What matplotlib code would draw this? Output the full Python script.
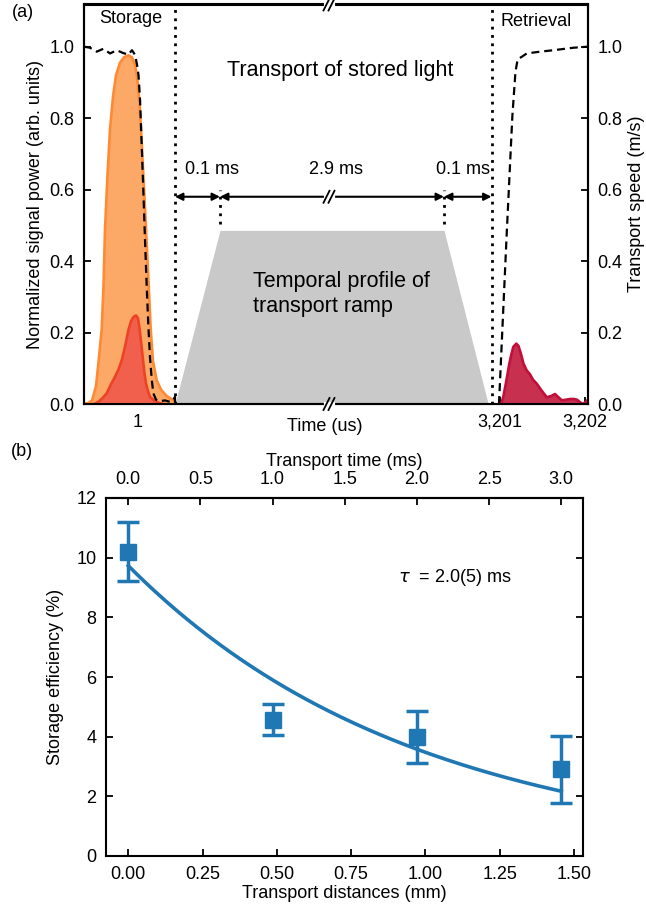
import numpy as np
import matplotlib
matplotlib.use('Agg')
import matplotlib.pyplot as plt
from matplotlib.lines import Line2D

plt.rcParams['font.family'] = ['Liberation Sans', 'DejaVu Sans']
plt.rcParams['mathtext.fontset'] = 'dejavusans'

# ---------------- Panel (a) data ----------------
# input (stored) pulse, normalized power vs time (us)
IN_T = [0.365, 0.412, 0.459, 0.506, 0.541, 0.573, 0.594, 0.612, 0.641, 0.671,
        0.706, 0.741, 0.788, 0.835, 0.886, 0.929, 0.965, 0.992, 1.018, 1.035,
        1.065, 1.094, 1.124, 1.149, 1.176, 1.220, 1.271, 1.338, 1.400, 1.471,
        1.541, 1.612]
IN_P = [0.002, 0.002, 0.01, 0.05, 0.13, 0.21, 0.33, 0.49, 0.64, 0.77,
        0.86, 0.92, 0.955, 0.97, 0.976, 0.97, 0.95, 0.91, 0.84, 0.77,
        0.63, 0.49, 0.34, 0.21, 0.12, 0.066, 0.04, 0.022, 0.013, 0.008,
        0.004, 0.0]
# leaked / unstored part of the pulse
LEAK_T = [0.482, 0.533, 0.576, 0.632, 0.682, 0.729, 0.771, 0.808, 0.847, 0.886,
          0.918, 0.945, 0.976, 1.0, 1.015, 1.035, 1.055, 1.074, 1.094, 1.118,
          1.141, 1.2, 1.259, 1.306]
LEAK_P = [0.0, 0.006, 0.015, 0.03, 0.055, 0.076, 0.097, 0.122, 0.16, 0.206,
          0.232, 0.243, 0.248, 0.24, 0.216, 0.175, 0.132, 0.09, 0.057, 0.035,
          0.02, 0.008, 0.002, 0.0]
# retrieved pulse after transport
RET_T = [3201.012, 3201.039, 3201.071, 3201.11, 3201.135, 3201.157, 3201.192,
         3201.218, 3201.247, 3201.276, 3201.314, 3201.353, 3201.388, 3201.432,
         3201.482, 3201.549, 3201.6, 3201.647, 3201.682, 3201.729, 3201.776,
         3201.824, 3201.871, 3201.906, 3201.941, 3201.976, 3202.012, 3202.035]
RET_P = [0.0, 0.02, 0.06, 0.113, 0.14, 0.16, 0.169, 0.162, 0.14, 0.113,
         0.094, 0.083, 0.068, 0.057, 0.04, 0.019, 0.022, 0.028, 0.02, 0.01,
         0.012, 0.014, 0.014, 0.012, 0.005, 0.0, 0.006, 0.012]
# control / transport speed (dashed), right axis
SPD_L_T = [0.365, 0.435, 0.514, 0.592, 0.671, 0.749, 0.827, 0.886, 0.929, 0.965,
           0.988, 1.006, 1.024, 1.044, 1.062, 1.082, 1.102, 1.121, 1.141, 1.161,
           1.180, 1.212, 1.259, 1.318, 1.376, 1.412, 1.435, 1.459, 1.494]
SPD_L_V = [1.0, 0.997, 0.986, 0.994, 0.981, 0.99, 0.982, 0.978, 0.99, 0.977,
           0.95, 0.92, 0.85, 0.72, 0.6, 0.46, 0.33, 0.22, 0.13, 0.07,
           0.03, 0.012, 0.008, 0.01, 0.006, 0.01, 0.02, 0.008, 0.0]
SPD_R_T = [3200.988, 3201.079, 3201.145, 3201.182, 3201.208, 3201.259,
           3201.314, 3201.471, 3201.627, 3201.862, 3202.035]
SPD_R_V = [0.0, 0.477, 0.804, 0.93, 0.965, 0.972, 0.981, 0.986, 0.99, 0.997, 1.0]

# event times (us) and transport ramp profile
T_STORE_END = 1.435
T_ACCEL_END = 101.435
T_DECEL_START = 3100.9
T_RETRIEVE = 3200.9
RAMP_T = [T_STORE_END, T_ACCEL_END, T_DECEL_START, 3194.0]
RAMP_V = [0.0, 0.486, 0.486, 0.0]

XTICKS_A = [1, 3201, 3202]
XTICKLABELS_A = ['1', '3,201', '3,202']

# ---------------- Panel (b) data ----------------
TIME_MS = [0.0, 1.0, 2.0, 3.0]
SPEED_MM_PER_MS = 0.4856
DIST_MM = [0.0, 0.4856, 0.971, 1.457]
EFF = [10.2, 4.57, 4.0, 2.9]
EFF_ERR = [0.98, 0.53, 0.87, 1.13]
FIT_A = 9.73
FIT_TAU_MS = 2.0

# ---------------- figure ----------------
W, H = 646, 911
fig = plt.figure(figsize=(W / 100, H / 100), dpi=100)


def px_axes(l, t, r, b):
    return [l / W, 1 - b / H, (r - l) / W, (b - t) / H]


# schematic broken time axis (piecewise linear)
SCALE_T = np.array([0.0, T_STORE_END, T_ACCEL_END, T_DECEL_START, T_RETRIEVE, 3202.0])
SCALE_U = np.array([53.0, 175.0, 220.0, 444.0, 491.5, 585.0])
SLOPE = 85.0


def fwd(t):
    t = np.asarray(t, dtype=float)
    u = np.interp(t, SCALE_T, SCALE_U)
    u = np.where(t < SCALE_T[0], SCALE_U[0] + (t - SCALE_T[0]) * SLOPE, u)
    u = np.where(t > SCALE_T[-1], SCALE_U[-1] + (t - SCALE_T[-1]) * SLOPE, u)
    return u


def inv(u):
    u = np.asarray(u, dtype=float)
    t = np.interp(u, SCALE_U, SCALE_T)
    t = np.where(u < SCALE_U[0], SCALE_T[0] + (u - SCALE_U[0]) / SLOPE, t)
    t = np.where(u > SCALE_U[-1], SCALE_T[-1] + (u - SCALE_U[-1]) / SLOPE, t)
    return t


FS = 13
TICK_KW = dict(direction='in', length=5, width=1.3, labelsize=FS, pad=7)

axa = fig.add_axes(px_axes(84, 4.5, 588, 404))
axa.set_xscale('function', functions=(fwd, inv))
axa.set_xlim(float(inv(84)), float(inv(588)))
axa.set_ylim(0, 1.118)
axa.set_xticks(XTICKS_A)
axa.set_xticklabels(XTICKLABELS_A)
axa.xaxis.set_minor_locator(matplotlib.ticker.NullLocator())
axa.set_yticks([0, 0.2, 0.4, 0.6, 0.8, 1.0])
axa.set_yticklabels(['0.0', '0.2', '0.4', '0.6', '0.8', '1.0'])
axa.tick_params(**TICK_KW)
for s in axa.spines.values():
    s.set_linewidth(1.5)
axa.set_ylabel('Normalized signal power (arb. units)', fontsize=FS, labelpad=4)
axa.set_xlabel('Time (us)', fontsize=FS)
axa.xaxis.set_label_coords(0.478, -0.035)

# ramp profile
axa.fill_between(RAMP_T, RAMP_V, color='#c9c9c9', lw=0, zorder=1)
# pulses
axa.fill_between(IN_T, IN_P, color='#fca866', lw=0, zorder=2)
axa.plot(IN_T, IN_P, color='#ff8a33', lw=1.9, zorder=3)
axa.fill_between(LEAK_T, LEAK_P, color='#f0604c', lw=0, zorder=4)
axa.plot(LEAK_T, LEAK_P, color='#ee4226', lw=1.9, zorder=5)
axa.fill_between(RET_T, RET_P, color='#c83050', lw=0, zorder=4)
axa.plot(RET_T, RET_P, color='#c0103a', lw=1.9, zorder=5)

# dotted event lines
DOT = (0, (1, 2))
axa.axvline(T_STORE_END, color='k', ls=DOT, lw=2, zorder=6)
axa.axvline(T_RETRIEVE, color='k', ls=DOT, lw=2, zorder=6)
for tt in (T_ACCEL_END, T_DECEL_START):
    axa.plot([tt, tt], [0.505, 0.6], color='k', ls=DOT, lw=2, zorder=6)

# arrows
ARROW_Y = 0.58
akw = dict(arrowstyle='<|-|>', color='k', lw=1.5, mutation_scale=11, shrinkA=0, shrinkB=0)
for a, b in ((T_STORE_END, T_ACCEL_END), (T_ACCEL_END, T_DECEL_START), (T_DECEL_START, T_RETRIEVE)):
    axa.annotate('', xy=(b, ARROW_Y), xytext=(a, ARROW_Y), arrowprops=akw, zorder=7)

axa.text(0.2004, 0.586, '0.1 ms', transform=axa.transAxes, fontsize=FS, ha='left', va='center')
axa.text(0.4994, 0.586, '2.9 ms', transform=axa.transAxes, fontsize=FS, ha='center', va='center')
axa.text(0.752, 0.586, '0.1 ms', transform=axa.transAxes, fontsize=FS, ha='center', va='center')
axa.text(0.093, 0.966, 'Storage', transform=axa.transAxes, fontsize=FS, ha='center', va='center')
axa.text(0.897, 0.957, 'Retrieval', transform=axa.transAxes, fontsize=FS, ha='center', va='center')
axa.text(0.508, 0.834, 'Transport of stored light', transform=axa.transAxes, fontsize=15.5,
         ha='center', va='center')
axa.text(0.335, 0.275, 'Temporal profile of\ntransport ramp', transform=axa.transAxes,
         fontsize=15.5, ha='left', va='center', linespacing=1.25)

# right axis: transport speed
axr = axa.twinx()
axr.set_ylim(0, 1.118)
axr.set_yticks([0, 0.2, 0.4, 0.6, 0.8, 1.0])
axr.set_yticklabels(['0.0', '0.2', '0.4', '0.6', '0.8', '1.0'])
axr.tick_params(**TICK_KW)
for s in axr.spines.values():
    s.set_linewidth(1.5)
axr.set_ylabel('Transport speed (m/s)', fontsize=FS, labelpad=4)
axr.plot(SPD_L_T, SPD_L_V, color='k', lw=1.6, dashes=(3.6, 2.2))
axr.plot(SPD_R_T, SPD_R_V, color='k', lw=1.6, dashes=(3.6, 2.2))


def draw_break(xd, yd, h=6, dx=3, sep=5, lw=1.3):
    fig.add_artist(Line2D([(xd - sep / 2 - 1) / W, (xd + sep / 2 + 1) / W], [yd / H, yd / H],
                          color='white', lw=3, transform=fig.transFigure, zorder=20))
    for off in (-sep / 2, sep / 2):
        fig.add_artist(Line2D([(xd + off - dx) / W, (xd + off + dx) / W],
                              [(yd - h) / H, (yd + h) / H], color='k', lw=lw,
                              transform=fig.transFigure, zorder=21))


t_break = float(inv(329))
xb = axa.transData.transform((t_break, 0.5))[0]
y_top = axa.transAxes.transform((0, 1))[1]
y_bot = axa.transAxes.transform((0, 0))[1]
y_arr = axa.transData.transform((t_break, ARROW_Y))[1]
draw_break(xb, y_top)
draw_break(xb, y_bot)
draw_break(xb, y_arr)

fig.text(12 / W, 1 - 12.5 / H, '(a)', fontsize=FS, ha='left', va='center')
fig.text(11 / W, 1 - 452 / H, '(b)', fontsize=FS, ha='left', va='center')

# ---------------- Panel (b) ----------------
BLUE = '#1f77b4'
axb = fig.add_axes(px_axes(106, 498, 583, 856))
axb.errorbar(DIST_MM, EFF, yerr=EFF_ERR, fmt='s', color=BLUE, ms=11, capsize=8,
             capthick=2.5, elinewidth=2.5, zorder=3)
fit_t = np.linspace(TIME_MS[0], TIME_MS[-1], 200)
axb.plot(fit_t * SPEED_MM_PER_MS, FIT_A * np.exp(-fit_t / FIT_TAU_MS), color=BLUE, lw=2.6, zorder=2)
axb.set_xlim(-0.075, 1.53)
axb.set_ylim(0, 12)
xt = [0.0, 0.25, 0.5, 0.75, 1.0, 1.25, 1.5]
axb.set_xticks(xt)
axb.set_xticklabels(['%.2f' % v for v in xt])
axb.set_yticks([0, 2, 4, 6, 8, 10, 12])
axb.tick_params(**TICK_KW)
axb.tick_params(axis='y', right=True)
for s in axb.spines.values():
    s.set_linewidth(1.5)
axb.set_xlabel('Transport distances (mm)', fontsize=FS, labelpad=2)
axb.set_ylabel('Storage efficiency (%)', fontsize=FS, labelpad=9)
axb.text(0.906, 9.34, r'$\tau$  = 2.0(5) ms', fontsize=FS, ha='left', va='center')

sec = axb.secondary_xaxis('top', functions=(lambda d: d / SPEED_MM_PER_MS,
                                            lambda t: t * SPEED_MM_PER_MS))
tt_ticks = [0.0, 0.5, 1.0, 1.5, 2.0, 2.5, 3.0]
sec.set_xticks(tt_ticks)
sec.set_xticklabels(['%.1f' % v for v in tt_ticks])
sec.tick_params(**TICK_KW)
sec.spines['top'].set_linewidth(1.5)
sec.set_xlabel('Transport time (ms)', fontsize=FS, labelpad=4)

fig.savefig('out.png', dpi=100)
